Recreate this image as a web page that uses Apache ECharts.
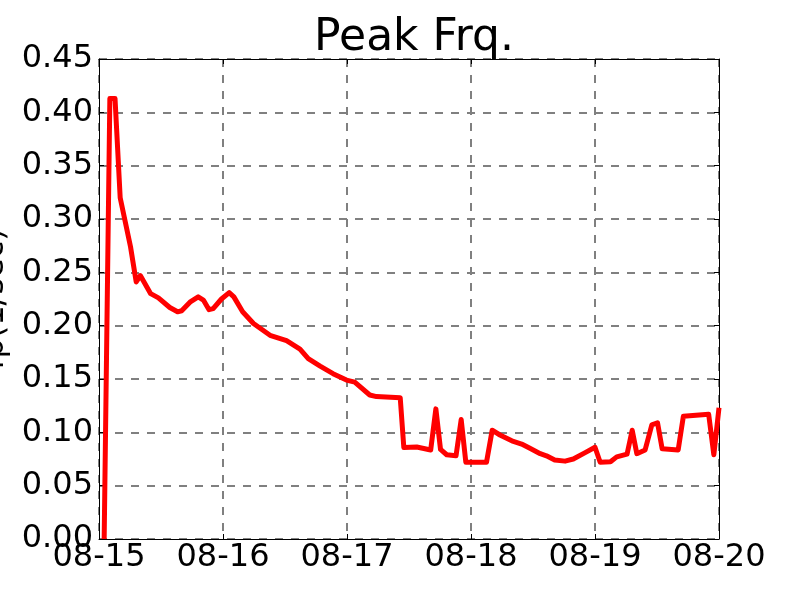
<!DOCTYPE html>
<html>
<head>
<meta charset="utf-8">
<title>Peak Frq.</title>
<script src="https://cdn.jsdelivr.net/npm/echarts@6/dist/echarts.min.js"></script>
<style>
    html, body {margin: 0; padding: 0; background: #fff;}
    #chartWrap {width: 800px; height: 600px;}
</style>
</head>
<body>
<div id="chartWrap"></div>
<script>
// hours since 08-15 00:00
const hours = [1, 2.1, 3.1, 4.1, 6.1, 7.2, 8, 10, 11.5, 13.7, 15.2, 16, 17.6, 19.2, 20.2, 21.3, 22.1, 23.7,
    25.2, 26.1, 27.8, 29.9, 33.1, 36.3, 38.9, 40.5, 42.8, 45.3, 47.9, 49.5, 52.4, 53.7, 58.3, 59,
    61.5, 64.2, 65.2, 66.1, 67.3, 69.1, 70.1, 71, 75, 76.1, 77.6, 79.9, 81.8, 83.4, 85.4, 86.6,
    88.2, 90.2, 91.8, 94.1, 96, 97, 99, 100.2, 102.2, 103.2, 104.1, 105.7, 107, 108.1, 109,
    112.1, 113.1, 118, 119, 120];
const fp = [0, 0.413, 0.413, 0.320, 0.274, 0.241, 0.247, 0.230, 0.226, 0.217, 0.213, 0.214, 0.222, 0.227, 0.224, 0.215, 0.216, 0.225,
    0.231, 0.227, 0.213, 0.202, 0.191, 0.186, 0.178, 0.169, 0.162, 0.155, 0.149, 0.147, 0.135, 0.1335, 0.1325, 0.0857,
    0.0863, 0.0835, 0.122, 0.084, 0.079, 0.078, 0.112, 0.072, 0.072, 0.102, 0.0975, 0.092, 0.089, 0.085, 0.080, 0.078,
    0.074, 0.073, 0.075, 0.081, 0.086, 0.072, 0.0725, 0.077, 0.0795, 0.102, 0.080, 0.0835, 0.107, 0.109, 0.0845,
    0.0835, 0.115, 0.117, 0.079, 0.123];
const dayLabels = ['08-15', '08-16', '08-17', '08-18', '08-19', '08-20'];

const font = 'DejaVu Sans';
const points = hours.map(function (h, i) {
    return [h, fp[i]];
});

const tickInside = {show: true, inside: true, length: 5, lineStyle: {color: '#000', width: 1}};
const gridDash = {show: true, lineStyle: {color: '#808080', width: 2, type: [8, 8]}};

let myChart = echarts.init(document.getElementById('chartWrap'));
myChart.setOption({
    animation: false,
    backgroundColor: '#fff',
    title: {
        text: 'Peak Frq.',
        left: 409,
        textAlign: 'center',
        top: 12,
        textStyle: {fontFamily: font, fontSize: 44, fontWeight: 'normal', color: '#000'}
    },
    // fixed plot box, the y name is allowed to run off the left edge
    grid: {left: 99, right: 81, top: 59, bottom: 61, containLabel: false, outerBoundsMode: 'none'},
    xAxis: [{
        type: 'value',
        min: 0,
        max: 120,
        interval: 24,
        axisLine: {show: true, onZero: false, lineStyle: {color: '#000', width: 1}},
        axisTick: tickInside,
        splitLine: gridDash,
        axisLabel: {
            fontFamily: font, fontSize: 32, color: '#000', margin: 3,
            formatter: function (v) {
                return dayLabels[Math.round(v / 24)];
            }
        }
    }, {
        // top edge: only line + ticks
        type: 'value',
        position: 'top',
        min: 0,
        max: 120,
        interval: 24,
        axisLine: {show: true, onZero: false, lineStyle: {color: '#000', width: 1}},
        axisTick: tickInside,
        splitLine: {show: false},
        axisLabel: {show: false}
    }],
    yAxis: [{
        type: 'value',
        min: 0,
        max: 0.45,
        interval: 0.05,
        name: 'fp(1/sec)',
        nameLocation: 'middle',
        nameRotate: 90,
        nameGap: 84,
        nameTextStyle: {fontFamily: font, fontSize: 32, color: '#000'},
        axisLine: {show: true, onZero: false, lineStyle: {color: '#000', width: 1}},
        axisTick: tickInside,
        splitLine: gridDash,
        axisLabel: {
            fontFamily: font, fontSize: 32, color: '#000', margin: 6,
            formatter: function (v) {
                return v.toFixed(2);
            }
        }
    }, {
        // right edge
        type: 'value',
        position: 'right',
        min: 0,
        max: 0.45,
        interval: 0.05,
        axisLine: {show: true, onZero: false, lineStyle: {color: '#000', width: 1}},
        axisTick: tickInside,
        splitLine: {show: false},
        axisLabel: {show: false}
    }],
    series: [{
        type: 'line',
        xAxisIndex: 0,
        yAxisIndex: 0,
        data: points,
        showSymbol: false,
        clip: true,
        lineStyle: {color: '#ff0000', width: 5, join: 'round'}
    }]
});
</script>
</body>
</html>
